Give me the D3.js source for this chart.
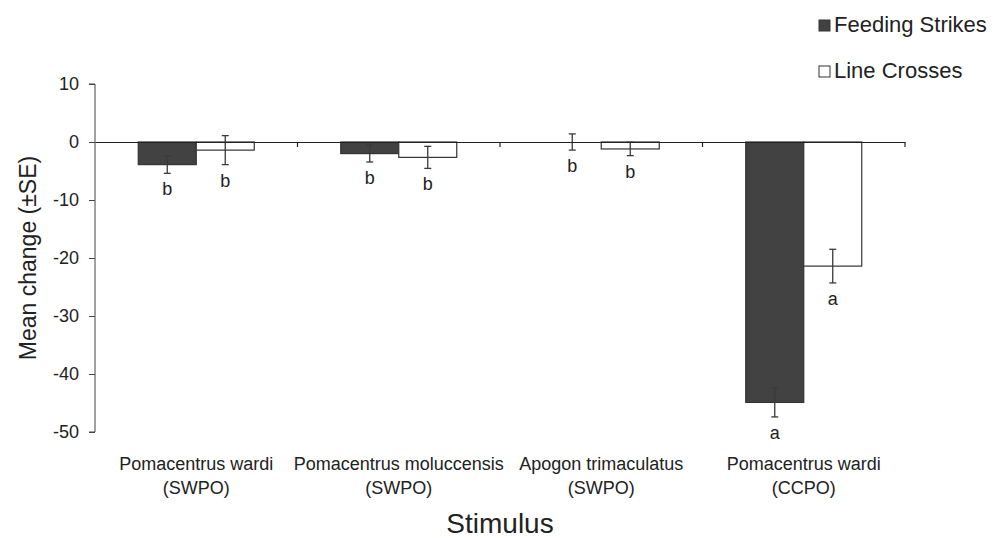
<!DOCTYPE html>
<html>
<head>
<meta charset="utf-8">
<script src="https://cdn.jsdelivr.net/npm/d3@7"></script>
<style>
  body { margin: 0; background: #fff; }
  svg { font-family: "Liberation Sans", Arial, sans-serif; }
</style>
</head>
<body>
<div id="svg-container"></div>
<script>
// Data.
const categories = ['Pomacentrus wardi|(SWPO)', 'Pomacentrus moluccensis|(SWPO)', 'Apogon trimaculatus|(SWPO)', 'Pomacentrus wardi|(CCPO)'];
const seriesNames = ['Feeding Strikes', 'Line Crosses'];
const feedingMeans = [-3.9, -2.0, 0, -44.9];
const feedingSE = [1.5, 1.45, 1.4, 2.5];
const feedingLetters = ['b', 'b', 'b', 'a'];
const lineMeans = [-1.4, -2.65, -1.2, -21.4];
const lineSE = [2.5, 1.9, 1.15, 2.9];
const lineLetters = ['b', 'b', 'b', 'a'];
const yTicks = [10, 0, -10, -20, -30, -40, -50];

const width = 1000;
const height = 538;
const padding = {
  top: 84,
  right: 95,
  bottom: 106,
  left: 95,
};

// Long format rows, one per bar.
let data = [];
for (let i = 0; i < categories.length; i++)
{
  data.push({cat: categories[i], series: seriesNames[0], mean: feedingMeans[i], se: feedingSE[i], letter: feedingLetters[i]});
  data.push({cat: categories[i], series: seriesNames[1], mean: lineMeans[i], se: lineSE[i], letter: lineLetters[i]});
}

const svg = d3.select('div#svg-container')
  .append('svg')
  .attr('width', width)
  .attr('height', height);

// Scales.
const xScale = d3.scaleBand()
  .domain(categories)
  .range([padding.left, width - padding.right])
  .padding(0);
const bw = xScale.bandwidth();
const barW = 58;
const xSub = d3.scaleBand()
  .domain(seriesNames)
  .range([bw / 2 - barW, bw / 2 + barW])
  .padding(0);
const yScale = d3.scaleLinear()
  .domain([-50, 10])
  .range([height - padding.bottom, padding.top]);

const fills = {'Feeding Strikes': '#424242', 'Line Crosses': '#ffffff'};

// Bars.
svg.append('g')
  .selectAll('rect')
  .data(data)
  .enter()
  .append('rect')
  .attr('x', (d) => xScale(d.cat) + xSub(d.series))
  .attr('y', (d) => Math.min(yScale(d.mean), yScale(0)))
  .attr('width', xSub.bandwidth())
  .attr('height', (d) => Math.abs(yScale(d.mean) - yScale(0)))
  .attr('fill', (d) => fills[d.series])
  .attr('stroke', '#333')
  .attr('stroke-width', 1.2);

// Error bars.
const cx = (d) => xScale(d.cat) + xSub(d.series) + xSub.bandwidth() / 2;
const err = svg.append('g')
  .attr('stroke', '#3a3a3a')
  .attr('stroke-width', 1.3);
err.selectAll('line.v')
  .data(data)
  .enter()
  .append('line')
  .attr('x1', cx)
  .attr('x2', cx)
  .attr('y1', (d) => yScale(d.mean + d.se))
  .attr('y2', (d) => yScale(d.mean - d.se));
err.selectAll('line.top')
  .data(data)
  .enter()
  .append('line')
  .attr('x1', (d) => cx(d) - 3.5)
  .attr('x2', (d) => cx(d) + 3.5)
  .attr('y1', (d) => yScale(d.mean + d.se))
  .attr('y2', (d) => yScale(d.mean + d.se));
err.selectAll('line.bot')
  .data(data)
  .enter()
  .append('line')
  .attr('x1', (d) => cx(d) - 3.5)
  .attr('x2', (d) => cx(d) + 3.5)
  .attr('y1', (d) => yScale(d.mean - d.se))
  .attr('y2', (d) => yScale(d.mean - d.se));

// Significance letters.
svg.append('g')
  .selectAll('text')
  .data(data)
  .enter()
  .append('text')
  .attr('x', cx)
  .attr('y', (d) => yScale(d.mean - d.se) + 22)
  .attr('text-anchor', 'middle')
  .style('font-size', '18px')
  .attr('fill', '#222')
  .text((d) => d.letter);

// Y axis (plain hyphen minus, as in the figure).
const yAxis = d3.axisLeft(yScale)
  .tickValues(yTicks)
  .tickFormat((d) => String(d))
  .tickSize(6)
  .tickPadding(10);
const gy = svg.append('g')
  .attr('transform', `translate(${padding.left},0)`)
  .call(yAxis);
gy.selectAll('path, line').attr('stroke', '#444');
gy.select('.domain').attr('d', `M-6,${yScale(10)}H0V${yScale(-50)}H-6`);
gy.selectAll('text')
  .style('font-size', '18px')
  .style('font-family', '"Liberation Sans", Arial, sans-serif')
  .attr('fill', '#222');

// X axis along zero, ticks at category boundaries.
const xAxis = d3.axisBottom(xScale)
  .tickSize(0)
  .tickFormat('');
const gx = svg.append('g')
  .attr('transform', `translate(0,${yScale(0)})`)
  .call(xAxis);
gx.select('.domain').attr('stroke', '#222').attr('stroke-width', 1.2);
gx.selectAll('.tick').remove();
gx.selectAll('line.bound')
  .data(categories)
  .enter()
  .append('line')
  .attr('x1', (d) => xScale(d) + bw)
  .attr('x2', (d) => xScale(d) + bw)
  .attr('y1', 0)
  .attr('y2', 5)
  .attr('stroke', '#222')
  .attr('stroke-width', 1.2);

// Category labels, two lines each.
const catG = svg.append('g')
  .selectAll('text')
  .data(categories)
  .enter()
  .append('text')
  .attr('text-anchor', 'middle')
  .style('font-size', '18px')
  .attr('fill', '#222');
catG.append('tspan')
  .attr('x', (d) => xScale(d) + bw / 2)
  .attr('y', 470)
  .text((d) => d.split('|')[0]);
catG.append('tspan')
  .attr('x', (d) => xScale(d) + bw / 2)
  .attr('y', 494)
  .text((d) => d.split('|')[1]);

// Axis titles.
svg.append('text')
  .attr('x', 500)
  .attr('y', 533)
  .attr('text-anchor', 'middle')
  .style('font-size', '28px')
  .attr('fill', '#222')
  .text('Stimulus');

svg.append('text')
  .attr('transform', 'rotate(-90)')
  .attr('x', -yScale(-20))
  .attr('y', 36)
  .attr('text-anchor', 'middle')
  .style('font-size', '23px')
  .attr('fill', '#222')
  .text('Mean change (±SE)');

// Legend.
const legend = svg.append('g')
  .selectAll('g')
  .data(seriesNames)
  .enter()
  .append('g')
  .attr('transform', (d, i) => `translate(819,${20 + i * 46})`);
legend.append('rect')
  .attr('width', 11)
  .attr('height', 11)
  .attr('fill', (d) => fills[d])
  .attr('stroke', '#333')
  .attr('stroke-width', 1);
legend.append('text')
  .attr('x', 15)
  .attr('y', 12)
  .style('font-size', '22px')
  .attr('fill', '#222')
  .text((d) => d);
</script>
</body>
</html>
